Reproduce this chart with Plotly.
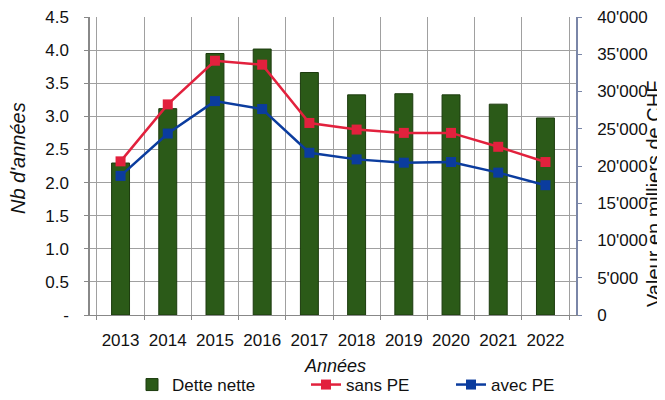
import plotly.graph_objects as go

years = ["2013", "2014", "2015", "2016", "2017", "2018", "2019", "2020", "2021", "2022"]
dette_nette = [20400, 27700, 35100, 35700, 32550, 29550, 29700, 29550, 28300, 26450]
sans_pe = [2.32, 3.18, 3.84, 3.78, 2.90, 2.80, 2.75, 2.75, 2.54, 2.31]
avec_pe = [2.10, 2.74, 3.23, 3.11, 2.45, 2.35, 2.30, 2.31, 2.15, 1.96]

left_vals = [0, 0.5, 1.0, 1.5, 2.0, 2.5, 3.0, 3.5, 4.0, 4.5]
left_text = ["-", "0.5", "1.0", "1.5", "2.0", "2.5", "3.0", "3.5", "4.0", "4.5"]
right_vals = [0, 5000, 10000, 15000, 20000, 25000, 30000, 35000, 40000]
right_text = ["0", "5'000", "10'000", "15'000", "20'000", "25'000", "30'000", "35'000", "40'000"]

FONT = "Liberation Sans, Arial, sans-serif"
GREEN = "#2b5a18"
RED = "#e2213d"
BLUE = "#0b3c9e"

# page offset of the figure (default body margin of the html page)
OFF = 8
PX0, PX1, PY0, PY1 = 90, 576, 17, 315  # plot area in page pixels
W, H = 665 - OFF, 400 - OFF


def px(x):
    return (x - PX0) / (PX1 - PX0)


def py(y):
    return (PY1 - y) / (PY1 - PY0)


fig = go.Figure()
fig.add_trace(go.Bar(
    x=years, y=dette_nette, name="Dette nette", yaxis="y", legend="legend",
    marker=dict(color=GREEN, line=dict(color="#1c3b0e", width=1)),
    width=0.38,
))
fig.add_trace(go.Scatter(
    x=years, y=sans_pe, name="sans PE", yaxis="y2", mode="lines+markers", legend="legend2",
    line=dict(color=RED, width=2.5),
    marker=dict(symbol="square", size=10, color=RED),
))
fig.add_trace(go.Scatter(
    x=years, y=avec_pe, name="avec PE", yaxis="y2", mode="lines+markers", legend="legend3",
    line=dict(color=BLUE, width=2.5),
    marker=dict(symbol="square", size=10, color=BLUE),
))

leg_common = dict(orientation="h", xanchor="left", yanchor="middle", y=py(385),
                  font=dict(size=17), bgcolor="rgba(0,0,0,0)")

fig.update_layout(
    template="none",
    width=W, height=H,
    margin=dict(l=PX0 - OFF, r=W - (PX1 - OFF), t=PY0 - OFF, b=H - (PY1 - OFF), autoexpand=False),
    paper_bgcolor="white", plot_bgcolor="white",
    font=dict(family=FONT, size=17, color="#111"),
    showlegend=True,
    legend=dict(x=px(132), **leg_common),
    legend2=dict(x=px(306), **leg_common),
    legend3=dict(x=px(451), **leg_common),
    xaxis=dict(
        type="category", tickson="boundaries", showgrid=True, gridcolor="#a0a0a0", gridwidth=1,
        showline=True, linecolor="#888", linewidth=1, automargin=False,
        ticks="outside", ticklen=4, tickcolor="#888", ticklabelstandoff=10,
        tickfont=dict(size=17), tickangle=0,
    ),
    yaxis=dict(
        side="right", range=[0, 40000], tickvals=right_vals, ticktext=right_text,
        showgrid=False, showline=True, linecolor="#7a86a8", linewidth=1.5, automargin=False,
        ticks="outside", ticklen=4, tickcolor="#7a86a8", ticklabelstandoff=12,
        tickfont=dict(size=17), zeroline=False, ticklabeloverflow="allow",
    ),
    yaxis2=dict(
        side="left", overlaying="y", range=[0, 4.5], tickvals=left_vals, ticktext=left_text,
        showgrid=True, gridcolor="#a0a0a0", gridwidth=1, automargin=False,
        showline=True, linecolor="#888", linewidth=1.5,
        ticks="outside", ticklen=4, tickcolor="#888", ticklabelstandoff=12,
        tickfont=dict(size=17), zeroline=False, ticklabeloverflow="allow",
    ),
    annotations=[
        dict(text="<i>Nb d'années</i>", xref="paper", yref="paper", x=px(18), y=py(158),
             xanchor="center", yanchor="middle", textangle=-90, showarrow=False, font=dict(size=20)),
        dict(text="Valeur en milliers de CHF", xref="paper", yref="paper", x=px(654),
             y=py(194), xanchor="center", yanchor="middle", textangle=-90, showarrow=False,
             font=dict(size=20)),
        dict(text="<i>Années</i>", xref="paper", yref="paper", x=px(335), y=py(366),
             xanchor="center", yanchor="middle", showarrow=False, font=dict(size=18)),
    ],
)

fig.write_html("out.html")
